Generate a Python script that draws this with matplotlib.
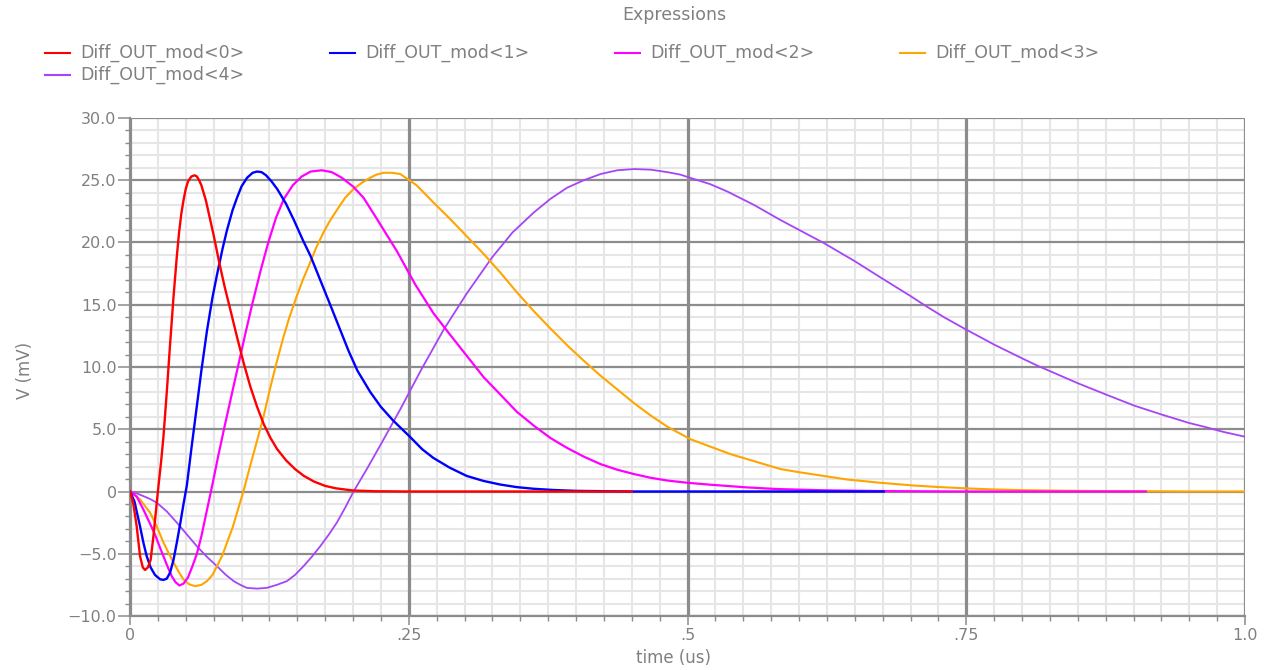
import matplotlib
matplotlib.use("Agg")
import matplotlib.pyplot as plt
from matplotlib.lines import Line2D
from matplotlib.ticker import MultipleLocator, FixedLocator, FixedFormatter

# ---------------- data (time in us, voltage in mV) ----------------
names = ["Diff_OUT_mod<0>", "Diff_OUT_mod<1>", "Diff_OUT_mod<2>",
         "Diff_OUT_mod<3>", "Diff_OUT_mod<4>"]
colors = ["#ff0000", "#0000ff", "#ff00ff", "#ffa500", "#a545f5"]

t0 = [0, 0.003, 0.006, 0.009, 0.0115, 0.0135, 0.016, 0.0185, 0.021, 0.023, 0.025,
      0.028, 0.030, 0.033, 0.036, 0.039, 0.042, 0.044, 0.046, 0.048, 0.050, 0.052,
      0.055, 0.058, 0.060, 0.062, 0.064, 0.066, 0.068, 0.070, 0.075, 0.080, 0.085,
      0.090, 0.096, 0.102, 0.108, 0.114, 0.120, 0.126, 0.132, 0.140, 0.148, 0.156,
      0.165, 0.175, 0.185, 0.200, 0.220, 0.250, 0.450]
v0 = [0, -1.0, -2.8, -5.2, -6.1, -6.3, -6.1, -5.5, -3.6, -1.8, 0.0,
      2.5, 4.4, 8.0, 11.9, 15.6, 18.9, 20.8, 22.3, 23.4, 24.3, 24.9,
      25.3, 25.4, 25.3, 25.0, 24.6, 24.0, 23.4, 22.6, 20.6, 18.4, 16.4,
      14.6, 12.4, 10.3, 8.4, 6.8, 5.4, 4.3, 3.4, 2.5, 1.8, 1.25,
      0.8, 0.45, 0.25, 0.08, 0.02, 0.0, 0.0]

t1 = [0, 0.004, 0.009, 0.012, 0.015, 0.0185, 0.0224, 0.027, 0.030, 0.033, 0.036,
      0.039, 0.042, 0.045, 0.048, 0.051, 0.055, 0.060, 0.064, 0.069, 0.074, 0.078,
      0.083, 0.087, 0.092, 0.096, 0.100, 0.105, 0.110, 0.114, 0.118, 0.122, 0.127,
      0.132, 0.140, 0.147, 0.155, 0.162, 0.171, 0.180, 0.188, 0.196, 0.204, 0.2154,
      0.225, 0.236, 0.251, 0.262, 0.272, 0.287, 0.302, 0.317, 0.332, 0.347, 0.362,
      0.380, 0.400, 0.450, 0.676]
v1 = [0, -0.8, -2.8, -4.1, -5.2, -6.1, -6.7, -7.05, -7.1, -7.0, -6.5,
      -5.5, -4.1, -2.6, -1.0, 0.5, 3.4, 6.9, 9.7, 12.9, 15.6, 17.4,
      19.5, 21.0, 22.6, 23.6, 24.5, 25.2, 25.6, 25.7, 25.65, 25.4, 24.9,
      24.3, 23.1, 21.8, 20.2, 18.9, 16.9, 14.9, 13.1, 11.3, 9.7, 8.0,
      6.8, 5.7, 4.4, 3.4, 2.7, 1.9, 1.25, 0.85, 0.56, 0.35, 0.22,
      0.12, 0.05, 0.0, 0.0]

t2 = [0, 0.006, 0.012, 0.017, 0.0224, 0.026, 0.030, 0.034, 0.0374, 0.041, 0.0443,
      0.048, 0.052, 0.056, 0.060, 0.064, 0.069, 0.074, 0.079, 0.085, 0.091, 0.097,
      0.103, 0.1095, 0.117, 0.124, 0.131, 0.138, 0.146, 0.154, 0.162, 0.172, 0.181,
      0.190, 0.200, 0.2094, 0.2214, 0.2394, 0.256, 0.2723, 0.287, 0.302, 0.317,
      0.332, 0.347, 0.362, 0.377, 0.392, 0.407, 0.422, 0.437, 0.452, 0.467, 0.482,
      0.500, 0.520, 0.553, 0.580, 0.620, 0.680, 0.750, 0.911]
v2 = [0, -0.4, -1.45, -2.4, -3.45, -4.3, -5.2, -6.1, -6.8, -7.3, -7.55,
      -7.4, -6.9, -6.0, -5.0, -3.6, -1.5, 0.6, 2.8, 5.3, 7.7, 10.1,
      12.5, 15.0, 17.7, 20.0, 22.0, 23.5, 24.6, 25.3, 25.7, 25.8, 25.65,
      25.2, 24.5, 23.6, 21.9, 19.3, 16.6, 14.3, 12.6, 10.9, 9.2,
      7.8, 6.4, 5.3, 4.3, 3.5, 2.8, 2.2, 1.75, 1.4, 1.1, 0.88,
      0.7, 0.55, 0.33, 0.2, 0.1, 0.03, 0.0, 0.0]

t3 = [0, 0.009, 0.018, 0.024, 0.030, 0.035, 0.039, 0.044, 0.048, 0.053, 0.0583,
      0.064, 0.069, 0.074, 0.078, 0.083, 0.087, 0.092, 0.096, 0.1017, 0.107, 0.1137,
      0.1197, 0.1257, 0.131, 0.1376, 0.143, 0.1496, 0.155, 0.1616, 0.167, 0.1735,
      0.179, 0.1855, 0.193, 0.2005, 0.208, 0.2154, 0.221, 0.2274, 0.235, 0.2424,
      0.257, 0.2723, 0.287, 0.302, 0.317, 0.332, 0.347, 0.362, 0.377, 0.392, 0.407,
      0.422, 0.437, 0.452, 0.467, 0.482, 0.5027, 0.5236, 0.5386, 0.5536, 0.5685,
      0.5835, 0.600, 0.6134, 0.6434, 0.673, 0.703, 0.725, 0.748, 0.770, 0.800,
      0.840, 0.880, 0.911, 0.950, 1.0]
v3 = [0, -0.64, -1.7, -2.8, -4.1, -5.0, -5.7, -6.5, -7.07, -7.45, -7.6,
      -7.5, -7.2, -6.7, -6.0, -5.1, -4.1, -2.9, -1.7, 0.0, 1.8, 4.0,
      6.0, 8.3, 10.2, 12.4, 14.0, 15.7, 17.0, 18.4, 19.6, 20.8,
      21.7, 22.6, 23.6, 24.3, 24.8, 25.2, 25.45, 25.6, 25.6, 25.5,
      24.6, 23.2, 21.9, 20.5, 19.1, 17.6, 16.0, 14.5, 13.1, 11.75, 10.5,
      9.3, 8.2, 7.1, 6.1, 5.2, 4.2, 3.5, 3.0, 2.6, 2.2,
      1.8, 1.55, 1.37, 0.96, 0.7, 0.48, 0.36, 0.26, 0.18, 0.11,
      0.06, 0.03, 0.02, 0.0, 0.0]

t4 = [0, 0.006, 0.012, 0.018, 0.024, 0.033, 0.042, 0.051, 0.060, 0.069, 0.078,
      0.086, 0.093, 0.099, 0.1047, 0.114, 0.1227, 0.1317, 0.1407, 0.148, 0.1556,
      0.163, 0.1706, 0.178, 0.1855, 0.193, 0.2005, 0.2124, 0.2244, 0.2424, 0.2613,
      0.2813, 0.302, 0.3247, 0.343, 0.362, 0.377, 0.392, 0.407, 0.422,
      0.437, 0.452, 0.467, 0.482, 0.4937, 0.5057, 0.520, 0.5356, 0.560, 0.5835,
      0.6224, 0.650, 0.673, 0.700, 0.712, 0.730, 0.748, 0.775, 0.800, 0.814, 0.850,
      0.875, 0.9006, 0.9246, 0.950, 0.9635, 0.980, 1.0]
v4 = [0, -0.15, -0.37, -0.6, -0.9, -1.6, -2.5, -3.45, -4.4, -5.25, -6.0,
      -6.7, -7.2, -7.5, -7.74, -7.8, -7.74, -7.5, -7.2, -6.7, -6.0,
      -5.25, -4.4, -3.5, -2.5, -1.3, 0.0, 1.8, 3.7, 6.6, 9.8,
      13.0, 15.9, 18.8, 20.8, 22.4, 23.5, 24.4, 25.0, 25.5,
      25.8, 25.9, 25.85, 25.65, 25.45, 25.1, 24.7, 24.1, 23.0, 21.8,
      19.95, 18.5, 17.2, 15.7, 15.0, 14.0, 13.1, 11.8, 10.7, 10.1, 8.7,
      7.8, 6.9, 6.2, 5.5, 5.2, 4.8, 4.4]

times = [t0, t1, t2, t3, t4]
volts = [v0, v1, v2, v3, v4]
widths = [1.7, 1.7, 1.6, 1.5, 1.3]

x_ticks = [0, 0.25, 0.5, 0.75, 1.0]
x_ticklabels = ["0", ".25", ".5", ".75", "1.0"]
y_ticks = [-10, -5, 0, 5, 10, 15, 20, 25, 30]
y_ticklabels = ["\u221210.0", "\u22125.0", "0", "5.0", "10.0", "15.0", "20.0", "25.0", "30.0"]

title = "Expressions"
xlabel = "time (us)"
ylabel = "V (mV)"

# ---------------- figure ----------------
TXT = "#808080"
GMAJ = "#8c8c8c"
GMIN = "#e6e6e6"
W, H = 1267, 670
plt.rcParams["font.family"] = ["DejaVu Sans"]
fig = plt.figure(figsize=(W / 100, H / 100), dpi=100)

ax = fig.add_axes([130 / W, (H - 616) / H, (1245 - 130) / W, (616 - 118) / H])
ax.set_xlim(0, 1.0)
ax.set_ylim(-10, 30)

ax.xaxis.set_major_locator(FixedLocator(x_ticks))
ax.xaxis.set_major_formatter(FixedFormatter(x_ticklabels))
ax.yaxis.set_major_locator(FixedLocator(y_ticks))
ax.yaxis.set_major_formatter(FixedFormatter(y_ticklabels))
ax.xaxis.set_minor_locator(MultipleLocator(0.025))
ax.yaxis.set_minor_locator(MultipleLocator(1))

# minor grid via axis grid, major grid on top of it
ax.grid(which="minor", color=GMIN, linewidth=1.5)
ax.grid(which="major", visible=False)
ax.set_axisbelow(True)
for yv in y_ticks:
    ax.axhline(yv, color=GMAJ, linewidth=1.6, zorder=1)
for xv in x_ticks:
    ax.axvline(xv, color=GMAJ, linewidth=2.3, zorder=1)

for s in ["top", "right"]:
    ax.spines[s].set_visible(False)
for s in ["left", "bottom"]:
    ax.spines[s].set_color(GMAJ)
    ax.spines[s].set_linewidth(1.6)

ax.tick_params(axis="y", which="major", direction="out", length=8.6, width=1.1,
               color=GMAJ, labelcolor=TXT, labelsize=11.5, pad=1)
ax.tick_params(axis="y", which="minor", direction="out", length=3.6, width=1.0,
               color=GMAJ)
ax.tick_params(axis="x", which="major", direction="out", length=6.5, width=1.1,
               color=GMAJ, labelcolor=TXT, labelsize=11.5, pad=2)
ax.tick_params(axis="x", which="minor", direction="out", length=3.6, width=1.0,
               color=GMAJ)

# curves
for i in [4, 3, 2, 1, 0]:
    ax.plot(times[i], volts[i], color=colors[i], linewidth=widths[i],
            solid_joinstyle="round", zorder=3 + (4 - i) * 0.1)

# labels
fig.text(674 / W, 1 - 15 / H, title, ha="center", va="center", color=TXT, fontsize=12.5)
fig.text(673 / W, 1 - 658 / H, xlabel, ha="center", va="center", color=TXT, fontsize=12)
fig.text(25 / W, 1 - 370 / H, ylabel, ha="center", va="center", color=TXT, fontsize=12,
         rotation=90)

# legend (manual layout matching the reference)
leg_pos = [(45, 53), (330, 53), (615, 53), (900, 53), (45, 75)]
for i, (lx, ly) in enumerate(leg_pos):
    yy = 1 - ly / H
    fig.add_artist(Line2D([lx / W, (lx + 25) / W], [yy, yy], color=colors[i],
                          linewidth=1.5, transform=fig.transFigure))
    fig.text((lx + 35) / W, yy, names[i], ha="left", va="center", color=TXT,
             fontsize=12.5)

fig.savefig("out.png", dpi=100)
